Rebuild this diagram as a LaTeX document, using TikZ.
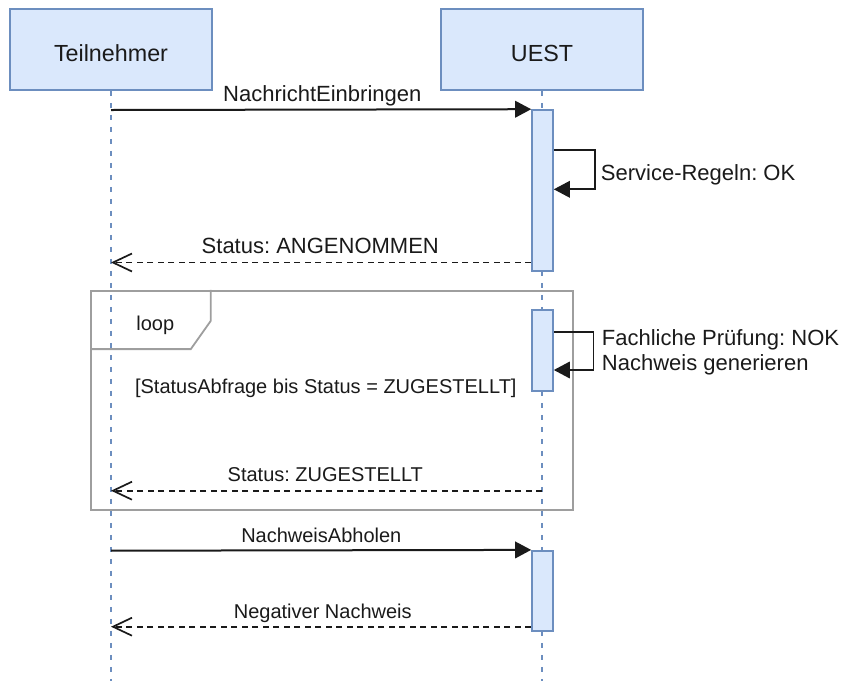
\documentclass[tikz,border=0pt]{standalone}
\usepackage{fontspec}
\setmainfont{Liberation Sans}
\usetikzlibrary{arrows.meta}
\definecolor{boxfill}{HTML}{DAE8FC}
\definecolor{boxline}{HTML}{6C8EBF}
\definecolor{framegray}{HTML}{9E9E9E}
\definecolor{ink}{HTML}{1A1A1A}

\begin{document}
\frenchspacing
\begin{tikzpicture}[x=1pt,y=-1pt,
  participant/.style={draw=boxline, fill=boxfill, line width=1.6pt,
    minimum width=202pt, minimum height=81pt, inner sep=0pt},
  activation/.style={draw=boxline, fill=boxfill, line width=1.6pt,
    minimum width=21pt, inner sep=0pt},
  lifeline/.style={draw=boxline, line width=1.8pt, dash pattern=on 5pt off 7pt},
  call/.style={draw=ink, line width=2pt, -{Triangle[length=16pt,width=16.5pt]}},
  reply/.style={draw=ink, line width=1.7pt, dash pattern=on 6pt off 4.5pt,
    -{Straight Barb[length=19pt,width=18pt]}},
  selfcall/.style={draw=ink, line width=1.8pt, -{Triangle[length=16pt,width=16.5pt]}},
  loopframe/.style={draw=framegray, line width=1.8pt},
  lbl/.style={inner sep=0pt, text=ink},
  titlefont/.style={font=\fontsize{23.3}{28}\selectfont},
  bigfont/.style={font=\fontsize{22}{26}\selectfont},
  smallfont/.style={font=\fontsize{20}{24}\selectfont},
]
\useasboundingbox (0,0) rectangle (841,681);

% participants
\node[participant] (tn) at (111,49.5) {};
\node[participant] (uest) at (542,49.5) {};
\node[lbl, titlefont, anchor=base] at (111,61.6) {Teilnehmer};
\node[lbl, titlefont, anchor=base] at (542,61.6) {UEST};

% lifeline ends
\coordinate (tnend) at (111,681);
\coordinate (uestend) at (542,681);
\draw[lifeline] (tn.south) -- (tnend);
\draw[lifeline] (uest.south) -- (uestend);

% loop fragment
\node[loopframe, minimum width=481.7pt, minimum height=219.3pt, inner sep=0pt]
  (loop) at (331.85,400.35) {};
\draw[loopframe] (loop.north west) ++(120.7,0) -- ++(0,31) -- ++(-20,28.3) -- ++(-100.7,0);
\node[lbl, smallfont, anchor=base] at (155.3,330) {loop};
\node[lbl, smallfont, anchor=base] at (325.8,393.5) {[StatusAbfrage bis Status = ZUGESTELLT]};

% activation bars
\node[activation, minimum height=160.7pt] (a1) at (542.5,190.35) {};
\node[activation, minimum height=80.7pt] (a2) at (542.5,350.35) {};
\node[activation, minimum height=80pt] (a3) at (542.5,590.7) {};

% message end points on the Teilnehmer lifeline
\coordinate (tn1) at (111,110);
\coordinate (tn2) at (111,262.5);
\coordinate (tn3) at (111,490.7);
\coordinate (tn4) at (111,550.7);
\coordinate (tn5) at (111,626.7);
% self call levels
\coordinate (s1) at (0,150);
\coordinate (s1b) at (0,189.3);
\coordinate (s2) at (0,331.7);
\coordinate (s2b) at (0,370);
\coordinate (r2) at (542,490.7);

% NachrichtEinbringen
\draw[call] (tn1) -- (a1.north west);
\node[lbl, bigfont, anchor=base] at (322.3,101) {NachrichtEinbringen};

% Service-Regeln
\draw[selfcall] (a1.east |- s1) -- ++(41,0) |- (a1.east |- s1b);
\node[lbl, bigfont, anchor=base west] at (600.7,180) {Service-Regeln: OK};

% Status: ANGENOMMEN
\draw[reply] (a1.west |- tn2) -- (tn2);
\node[lbl, bigfont, anchor=base] at (320.3,253) {Status: ANGENOMMEN};

% Fachliche Pruefung
\draw[selfcall] (a2.east |- s2) -- ++(39.7,0) |- (a2.east |- s2b);
\node[lbl, bigfont, anchor=base west] at (601.7,345) {Fachliche Prüfung: NOK};
\node[lbl, bigfont, anchor=base west] at (601.7,370) {Nachweis generieren};

% Status: ZUGESTELLT
\draw[reply] (r2) -- (tn3);
\node[lbl, smallfont, anchor=base] at (325.3,481.7) {Status: ZUGESTELLT};

% NachweisAbholen
\draw[call] (tn4) -- (a3.north west);
\node[lbl, smallfont, anchor=base] at (321.3,542) {NachweisAbholen};

% Negativer Nachweis
\draw[reply] (a3.west |- tn5) -- (tn5);
\node[lbl, smallfont, anchor=base] at (322.8,618) {Negativer Nachweis};
\end{tikzpicture}
\end{document}
